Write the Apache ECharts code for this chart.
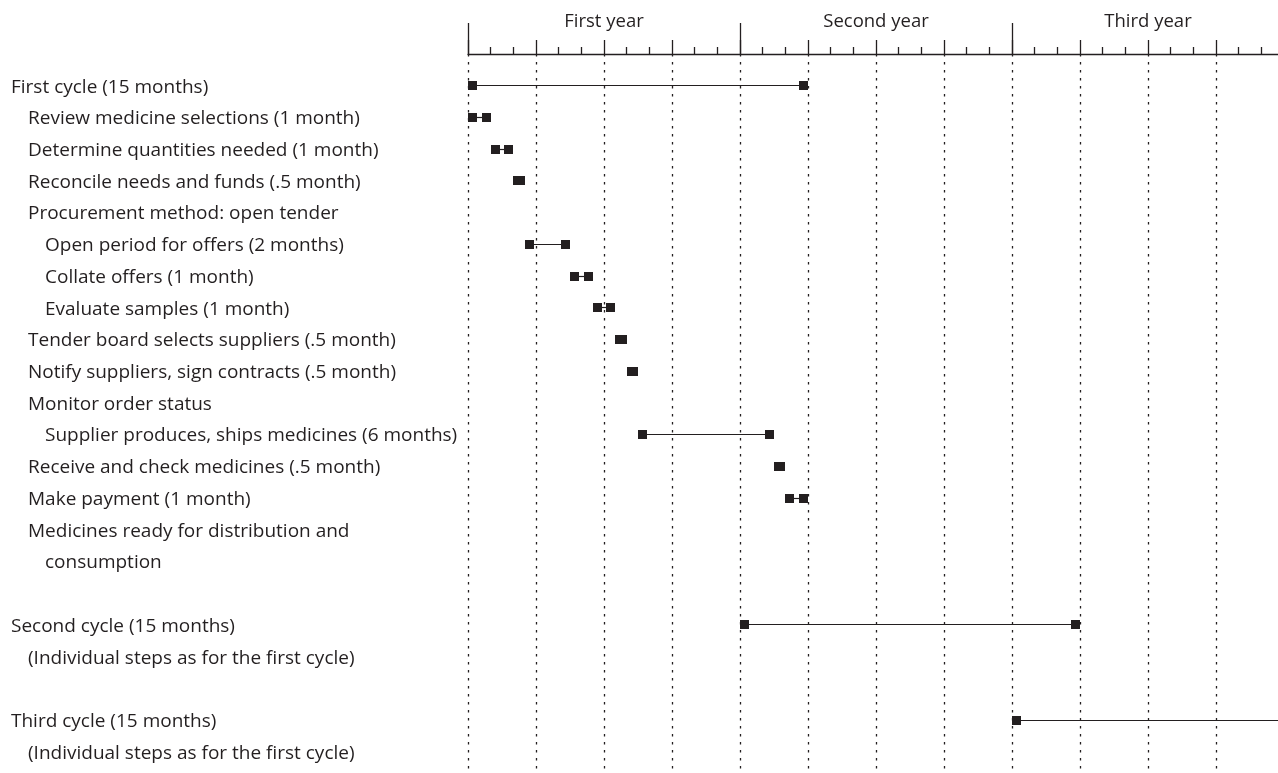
<!DOCTYPE html>
<html>
<head>
<meta charset="utf-8">
<script src="https://cdn.jsdelivr.net/npm/echarts@6/dist/echarts.min.js"></script>
<style>html,body{margin:0;padding:0;background:#fff;}#chart{width:1278px;height:773px;}</style>
</head>
<body>
<div id="chart"></div>
<script>
// ---- data ----
const taskLabels = [
  'First cycle (15 months)',
  'Review medicine selections (1 month)',
  'Determine quantities needed (1 month)',
  'Reconcile needs and funds (.5 month)',
  'Procurement method: open tender',
  'Open period for offers (2 months)',
  'Collate offers (1 month)',
  'Evaluate samples (1 month)',
  'Tender board selects suppliers (.5 month)',
  'Notify suppliers, sign contracts (.5 month)',
  'Monitor order status',
  'Supplier produces, ships medicines (6 months)',
  'Receive and check medicines (.5 month)',
  'Make payment (1 month)',
  'Medicines ready for distribution and',
  'consumption',
  '',
  'Second cycle (15 months)',
  '(Individual steps as for the first cycle)',
  '',
  'Third cycle (15 months)',
  '(Individual steps as for the first cycle)'
];
const taskLevels = [0,1,1,1,1,2,2,2,1,1,1,2,1,1,1,2,0,0,1,0,0,1];
const taskStarts = [0,0,1,2,null,2.5,4.5,5.5,6.5,7,null,7.5,13.5,14,null,null,null,12,null,null,24,null];
const taskEnds   = [15,1,2,2.5,null,4.5,5.5,6.5,7,7.5,null,13.5,14,15,null,null,null,27,null,null,39,null];
const yearLabels = ['First year','Second year','Third year'];

const ink = '#231f20';
const FONT = 'Open Sans';
const FS = 19;

const data = [];
taskStarts.forEach((s, i) => { if (s !== null) data.push([s, taskEnds[i], i]); });

const chart = echarts.init(document.getElementById('chart'), null, {renderer: 'canvas'});
chart.setOption({
  animation: false,
  backgroundColor: '#fff',
  textStyle: {fontFamily: FONT},
  grid: {left: 468, top: 54, width: 816, height: 719, containLabel: false, outerBoundsMode: 'none'},
  xAxis: [
    {
      type: 'value', position: 'top', min: 0, max: 36, interval: 3,
      axisLine: {show: true, onZero: false, lineStyle: {color: ink, width: 1.3}},
      axisTick: {show: true, inside: false, length: 14, lineStyle: {color: ink, width: 1.3}},
      minorTick: {show: true, splitNumber: 3, length: 7, lineStyle: {color: ink, width: 1.3}},
      axisLabel: {show: false},
      splitLine: {show: true, lineStyle: {type: [2.5, 5.5], color: ink, width: 1.3}},
      minorSplitLine: {show: false}
    },
    {
      type: 'value', position: 'top', min: 0, max: 36, interval: 12,
      axisLine: {show: false, onZero: false},
      axisTick: {show: true, inside: false, length: 31, lineStyle: {color: ink, width: 1.3}},
      axisLabel: {show: false}, splitLine: {show: false}
    },
    {
      type: 'value', position: 'top', min: 0, max: 36, interval: 6,
      axisLine: {show: false, onZero: false},
      axisTick: {show: false},
      splitLine: {show: false},
      axisLabel: {
        show: true, margin: 23, color: ink, fontFamily: FONT, fontSize: 18.5,
        formatter: v => (v % 12 === 6 ? yearLabels[(v - 6) / 12] : '')
      }
    }
  ],
  yAxis: {
    type: 'value', inverse: true, min: -1, max: 21.67, interval: 1,
    axisLine: {show: false}, axisTick: {show: false}, splitLine: {show: false},
    axisLabel: {
      show: true, align: 'left', margin: 457, color: ink, fontFamily: FONT, fontSize: FS,
      formatter: v => {
        if (v < 0 || v > 21 || Math.round(v) !== v || !taskLabels[v]) return '';
        return '{l' + taskLevels[v] + '|' + taskLabels[v] + '}';
      },
      rich: {
        l0: {fontFamily: FONT, fontSize: FS, color: ink, padding: [3, 0, 0, 0]},
        l1: {fontFamily: FONT, fontSize: FS, color: ink, padding: [3, 0, 0, 17]},
        l2: {fontFamily: FONT, fontSize: FS, color: ink, padding: [3, 0, 0, 34]}
      }
    }
  },
  series: [{
    type: 'custom',
    xAxisIndex: 0, yAxisIndex: 0,
    clip: false,
    encode: {x: [0, 1], y: 2},
    data: data,
    renderItem: (params, api) => {
      const s = api.coord([api.value(0), api.value(2)]);
      const e = api.coord([api.value(1), api.value(2)]);
      const sz = 9;
      const top = Math.round(s[1] - sz / 2);
      const ly = top + sz / 2;
      return {
        type: 'group',
        children: [
          {type: 'line', shape: {x1: s[0] + sz / 2, y1: ly, x2: e[0] - sz / 2, y2: ly}, style: {stroke: ink, lineWidth: 1.2}},
          {type: 'rect', shape: {x: Math.round(s[0]), y: top, width: sz, height: sz}, style: {fill: ink}},
          {type: 'rect', shape: {x: Math.round(e[0] - sz), y: top, width: sz, height: sz}, style: {fill: ink}}
        ]
      };
    }
  }]
});
</script>
</body>
</html>
